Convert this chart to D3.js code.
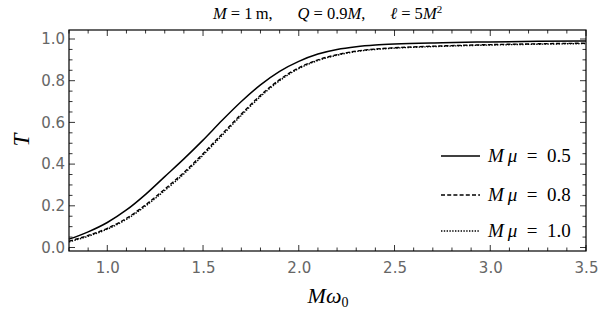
<!DOCTYPE html>
<html>
<head>
<meta charset="utf-8">
<script src="https://cdn.jsdelivr.net/npm/d3@7"></script>
<style>
	body { margin: 0; background: #fff; }
	.tick text { font-family: "DejaVu Sans", sans-serif; font-size: 15px; fill: #666; }
	.math { font-family: "Liberation Serif", "DejaVu Serif", serif; fill: #000; }
</style>
</head>
<body>
<svg id="chart" width="600" height="315"></svg>
<script>
// ==================================
// data
// ==================================
var omega = [0.8, 0.9, 1.0, 1.1, 1.2, 1.3, 1.4, 1.5, 1.6, 1.7, 1.8, 1.9, 2.0, 2.1, 2.2, 2.3, 2.4, 2.5, 2.75, 3.0, 3.25, 3.5];

var T_mu05 = [0.040, 0.075, 0.120, 0.180, 0.255, 0.340, 0.425, 0.515, 0.610, 0.700, 0.780, 0.845, 0.893, 0.928, 0.950, 0.963, 0.971, 0.976, 0.982, 0.986, 0.989, 0.991];
var T_mu08 = [0.030, 0.058, 0.092, 0.140, 0.205, 0.280, 0.360, 0.450, 0.545, 0.640, 0.730, 0.805, 0.862, 0.900, 0.925, 0.942, 0.952, 0.958, 0.967, 0.973, 0.977, 0.980];
var T_mu10 = [0.027, 0.054, 0.088, 0.135, 0.199, 0.273, 0.353, 0.443, 0.538, 0.633, 0.724, 0.800, 0.858, 0.897, 0.922, 0.940, 0.950, 0.956, 0.965, 0.971, 0.975, 0.978];

var legendLabels = ["0.5", "0.8", "1.0"];
var xTicks = [1.0, 1.5, 2.0, 2.5, 3.0, 3.5];
var yTicks = [0.0, 0.2, 0.4, 0.6, 0.8, 1.0];

// ==================================
// layout
// ==================================
var svg = d3.select("#chart");
var LEFT = 69, RIGHT = 586, TOP = 30, BOTTOM = 251;

var x = d3.scaleLinear().domain([0.8, 3.5]).range([LEFT, RIGHT]);
var y = d3.scaleLinear().domain([0, 1]).range([247.5, 39]);

var MAJOR = 6, MINOR = 3.5;

// minor tick positions
var xMinor = d3.range(0.8, 3.5001, 0.1).filter(function(v) {
	return Math.abs(v * 2 - Math.round(v * 2)) > 1e-6;
});
var yMinor = d3.range(0.0, 1.0401, 0.05).filter(function(v) {
	return Math.abs(v * 5 - Math.round(v * 5)) > 1e-6;
});

// frame ticks (inward, on all four sides)
var tickG = svg.append("g").attr("stroke", "#000").attr("stroke-width", 0.8);

function xTick(v, len) {
	tickG.append("line").attr("x1", x(v)).attr("x2", x(v)).attr("y1", BOTTOM).attr("y2", BOTTOM - len);
	tickG.append("line").attr("x1", x(v)).attr("x2", x(v)).attr("y1", TOP).attr("y2", TOP + len);
}
function yTick(v, len) {
	tickG.append("line").attr("y1", y(v)).attr("y2", y(v)).attr("x1", LEFT).attr("x2", LEFT + len);
	tickG.append("line").attr("y1", y(v)).attr("y2", y(v)).attr("x1", RIGHT).attr("x2", RIGHT - len);
}
xTicks.forEach(function(v) { xTick(v, MAJOR); });
xMinor.forEach(function(v) { xTick(v, MINOR); });
yTicks.forEach(function(v) { yTick(v, MAJOR); });
yMinor.forEach(function(v) { yTick(v, MINOR); });

// tick labels via axes (no tick lines, no domain)
var xAxis = d3.axisBottom(x).tickValues(xTicks).tickFormat(d3.format(".1f")).tickSize(0).tickPadding(11);
svg.append("g").attr("transform", "translate(0," + BOTTOM + ")").call(xAxis)
	.call(function(g) { g.select(".domain").remove(); });

var yAxis = d3.axisLeft(y).tickValues(yTicks).tickFormat(d3.format(".1f")).tickSize(0).tickPadding(4);
svg.append("g").attr("transform", "translate(" + LEFT + ",0)").call(yAxis)
	.call(function(g) { g.select(".domain").remove(); });

// frame
svg.append("rect")
	.attr("x", LEFT).attr("y", TOP)
	.attr("width", RIGHT - LEFT).attr("height", BOTTOM - TOP)
	.attr("fill", "none").attr("stroke", "#000").attr("stroke-width", 1.2);

// ==================================
// curves
// ==================================
var series = [
	{ values: T_mu05, dash: null, width: 1.5 },
	{ values: T_mu08, dash: "4,2.2", width: 1.4 },
	{ values: T_mu10, dash: "1.4,1.4", width: 1.4 }
];

var line = d3.line()
	.x(function(d) { return x(d[0]); })
	.y(function(d) { return y(d[1]); })
	.curve(d3.curveMonotoneX);

var plotG = svg.append("g");
series.forEach(function(s) {
	plotG.append("path")
		.attr("d", line(d3.zip(omega, s.values)))
		.attr("fill", "none")
		.attr("stroke", "#000")
		.attr("stroke-width", s.width)
		.attr("stroke-dasharray", s.dash);
});

// ==================================
// legend
// ==================================
var legendY = [156, 195, 231];
series.forEach(function(s, i) {
	var g = svg.append("g").attr("transform", "translate(0," + legendY[i] + ")");
	g.append("line")
		.attr("x1", 441).attr("x2", 480)
		.attr("stroke", "#000")
		.attr("stroke-width", s.width)
		.attr("stroke-dasharray", s.dash);
	var t = g.append("text").attr("class", "math").attr("x", 488).attr("y", 6).attr("font-size", 19);
	t.append("tspan").attr("font-style", "italic").text("M\u2009\u03BC");
	t.append("tspan").text("\u2002=\u2002" + legendLabels[i]);
});

// ==================================
// titles
// ==================================
var title = svg.append("text").attr("class", "math")
	.attr("x", (LEFT + RIGHT) / 2).attr("y", 19)
	.attr("text-anchor", "middle").attr("font-size", 16.5);
title.append("tspan").attr("font-style", "italic").text("M");
title.append("tspan").text(" = 1\u2009m,\u2003\u2002");
title.append("tspan").attr("font-style", "italic").text("Q");
title.append("tspan").text(" = 0.9");
title.append("tspan").attr("font-style", "italic").text("M");
title.append("tspan").text(",\u2003\u2002");
title.append("tspan").attr("font-style", "italic").text("\u2113");
title.append("tspan").text(" = 5");
title.append("tspan").attr("font-style", "italic").text("M");
title.append("tspan").attr("font-size", 11).attr("dy", -6).text("2");

svg.append("text").attr("class", "math")
	.attr("x", 22).attr("y", 140)
	.attr("text-anchor", "middle").attr("font-size", 23).attr("font-style", "italic")
	.attr("transform", "rotate(-90,22,140)").attr("dy", 7)
	.text("T");

var xl = svg.append("text").attr("class", "math")
	.attr("x", 328).attr("y", 303)
	.attr("text-anchor", "middle").attr("font-size", 22);
xl.append("tspan").attr("font-style", "italic").text("M\u03C9");
xl.append("tspan").attr("font-size", 14).attr("dy", 4).text("0");
</script>
</body>
</html>
